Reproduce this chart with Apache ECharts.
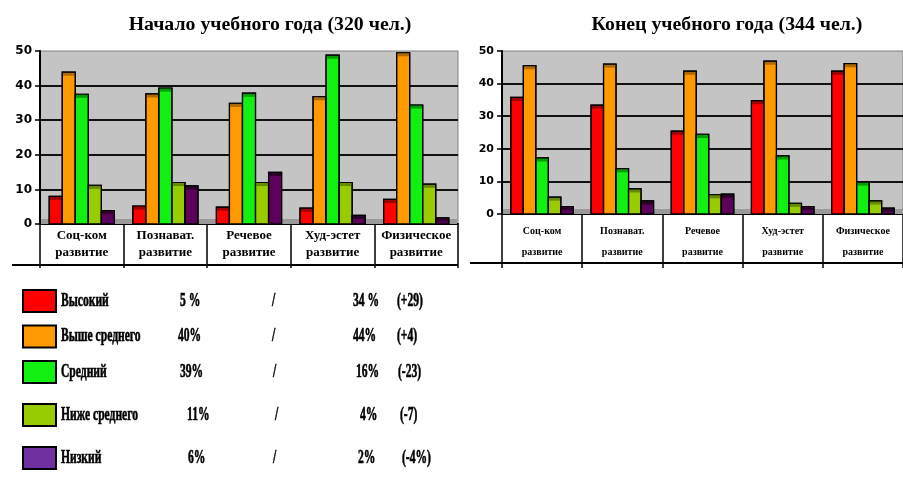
<!DOCTYPE html>
<html>
<head>
<meta charset="utf-8">
<script src="https://cdn.jsdelivr.net/npm/echarts@6/dist/echarts.min.js"></script>
<style>
html,body{margin:0;padding:0;background:#fff;}
#c{width:903px;height:477px;}
</style>
</head>
<body>
<div id="c"></div>
<script>
// ---- data ----
const categories = ['Соц-ком\nразвитие', 'Познават.\nразвитие', 'Речевое\nразвитие', 'Худ-эстет\nразвитие', 'Физическое\nразвитие'];
const levels = ['Высокий', 'Выше среднего', 'Средний', 'Ниже среднего', 'Низкий'];
const titles = ['Начало учебного года (320 чел.)', 'Конец учебного года (344 чел.)'];

const startHigh  = [8.0, 5.2, 4.9, 4.6, 7.1];
const startAbove = [43.9, 37.6, 34.9, 36.8, 49.5];
const startMid   = [37.5, 39.3, 37.8, 48.8, 34.4];
const startBelow = [11.2, 12.0, 12.0, 12.0, 11.5];
const startLow   = [3.9, 11.0, 14.9, 2.5, 1.8];

const endHigh  = [35.8, 33.4, 25.4, 34.8, 43.8];
const endAbove = [45.5, 46.0, 43.8, 46.9, 46.1];
const endMid   = [17.2, 13.9, 24.4, 17.8, 9.8];
const endBelow = [5.2, 7.7, 5.9, 3.3, 4.0];
const endLow   = [2.3, 4.0, 6.1, 2.3, 1.8];

const startPctText = ['5 %', '40%', '39%', '11%', '6%'];
const endPctText   = ['34 %', '44%', '16%', '4%', '2%'];
const diffText     = ['(+29)', '(+4)', '(-23)', '(-7)', '(-4%)'];

const yMin = 0, yMax = 50, yStep = 10;

// ---- styles / layout ----
const barColors = ['#ff0000', '#ff9900', '#11f011', '#99cc00', '#5c005c'];
const capColors = ['#a00000', '#b06a00', '#00a000', '#688a00', '#2a002a'];
const legendColors = ['#ff0000', '#ff9900', '#11f011', '#99cc00', '#7030a0'];
const BAR_FRAC = 0.156;
const CAP = 3;
const serif = '"Liberation Serif", "Times New Roman", serif';

const startSets = [startHigh, startAbove, startMid, startBelow, startLow];
const endSets = [endHigh, endAbove, endMid, endBelow, endLow];

function makeSeries(values, idx, axisIdx) {
  return {
    type: 'custom',
    name: levels[idx],
    xAxisIndex: axisIdx,
    yAxisIndex: axisIdx,
    data: values.map((v, i) => [i, v]),
    encode: { x: 0, y: 1 },
    clip: false,
    renderItem: function (params, api) {
      const c = api.value(0), v = api.value(1);
      const top = api.coord([c, v]);
      const base = api.coord([c, 0]);
      const bw = api.size([1, 0])[0];
      const w = bw * BAR_FRAC;
      const x = top[0] - 2.5 * w + idx * w;
      const h = base[1] - top[1];
      const cap = Math.min(CAP, h);
      return {
        type: 'group',
        children: [
          { type: 'rect', shape: { x: x, y: top[1], width: w, height: h },
            style: { fill: barColors[idx], stroke: '#000', lineWidth: 1.2 } },
          { type: 'rect', shape: { x: x + 0.6, y: top[1] + 0.6, width: w - 1.2, height: cap },
            style: { fill: capColors[idx] } },
          { type: 'rect', shape: { x: x, y: top[1], width: w, height: h },
            style: { fill: 'none', stroke: '#000', lineWidth: 1.2 } }
        ]
      };
    }
  };
}

const series = [];
startSets.forEach((s, i) => series.push(makeSeries(s, i, 0)));
endSets.forEach((s, i) => series.push(makeSeries(s, i, 1)));

function yAxisCfg(gridIndex, fontSize) {
  return {
    type: 'value', gridIndex: gridIndex, min: yMin, max: yMax, interval: yStep,
    axisLine: { show: true, lineStyle: { color: '#000', width: 2 } },
    axisTick: { show: true, length: 5, lineStyle: { color: '#000', width: 1.5 } },
    axisLabel: { color: '#000', fontFamily: '"DejaVu Sans", sans-serif', fontWeight: 'bold', fontSize: fontSize, margin: 8 },
    splitLine: { show: true, showMinLine: false, showMaxLine: false, lineStyle: { color: '#111', width: 2 } }
  };
}

function xAxisCfg(gridIndex, tickLen, fontSize, lineH, margin) {
  return {
    type: 'category', gridIndex: gridIndex, data: categories,
    axisLine: { show: true, lineStyle: { color: '#000', width: 2 } },
    axisTick: { show: true, alignWithLabel: false, length: tickLen, lineStyle: { color: '#000', width: 1.5 } },
    axisLabel: { color: '#000', fontFamily: serif, fontWeight: 'bold', fontSize: fontSize, lineHeight: lineH, margin: margin, interval: 0 }
  };
}

const graphic = [];
// floors (3D base band)
graphic.push({ type: 'rect', z: 1, shape: { x: 41, y: 219, width: 416, height: 5 }, style: { fill: '#9a9a9a' } });
graphic.push({ type: 'rect', z: 1, shape: { x: 503, y: 209, width: 400, height: 5 }, style: { fill: '#9a9a9a' } });
// table bottom lines
graphic.push({ type: 'line', shape: { x1: 12, y1: 265, x2: 458, y2: 265 }, style: { stroke: '#000', lineWidth: 2 } });
graphic.push({ type: 'line', shape: { x1: 470, y1: 263, x2: 903, y2: 263 }, style: { stroke: '#000', lineWidth: 2 } });
// titles
const titleX = [270, 727];
titles.forEach((t, i) => {
  graphic.push({ type: 'text', x: titleX[i], y: 25, scaleX: 1.1,
    style: { text: t, fill: '#000', font: 'bold 18px ' + serif, textAlign: 'center', textVerticalAlign: 'middle' } });
});
// legend table
const rowY = [301, 336.5, 372, 415, 458];
const colName = 61;
const colPct1 = [180, 178, 180, 187, 188];
const colSlash = [272, 272, 273, 275, 273];
const colPct2 = [353, 353, 356, 360, 358];
const colDiff = [397, 397, 398, 400, 402];
const SX = 0.61;
function legText(txt, x, y) {
  return { type: 'text', x: x, y: y, scaleX: SX,
    style: { text: txt, fill: '#000', stroke: '#000', lineWidth: 0.6, font: 'bold 19px ' + serif, textAlign: 'left', textVerticalAlign: 'middle' } };
}
levels.forEach((name, i) => {
  graphic.push({ type: 'rect', shape: { x: 23, y: rowY[i] - 11, width: 33, height: 22 },
    style: { fill: legendColors[i], stroke: '#000', lineWidth: 2 } });
  graphic.push(legText(name, colName, rowY[i]));
  graphic.push(legText(startPctText[i], colPct1[i], rowY[i]));
  graphic.push(legText('/', colSlash[i], rowY[i]));
  graphic.push(legText(endPctText[i], colPct2[i], rowY[i]));
  graphic.push(legText(diffText[i], colDiff[i], rowY[i]));
});

const chart = echarts.init(document.getElementById('c'), null, { renderer: 'canvas' });
chart.setOption({
  animation: false,
  backgroundColor: '#fff',
  grid: [
    { left: 40, top: 51, width: 418, height: 173, show: true, backgroundColor: '#c4c4c4', borderColor: '#808080', borderWidth: 1, containLabel: false },
    { left: 502, top: 51, width: 409, height: 163, show: true, backgroundColor: '#c4c4c4', borderColor: '#808080', borderWidth: 1, containLabel: false }
  ],
  xAxis: [xAxisCfg(0, 44, 13, 17, 3), xAxisCfg(1, 54, 10, 21, 7)],
  yAxis: [yAxisCfg(0, 12), yAxisCfg(1, 11)],
  series: series,
  graphic: graphic
});
</script>
</body>
</html>
